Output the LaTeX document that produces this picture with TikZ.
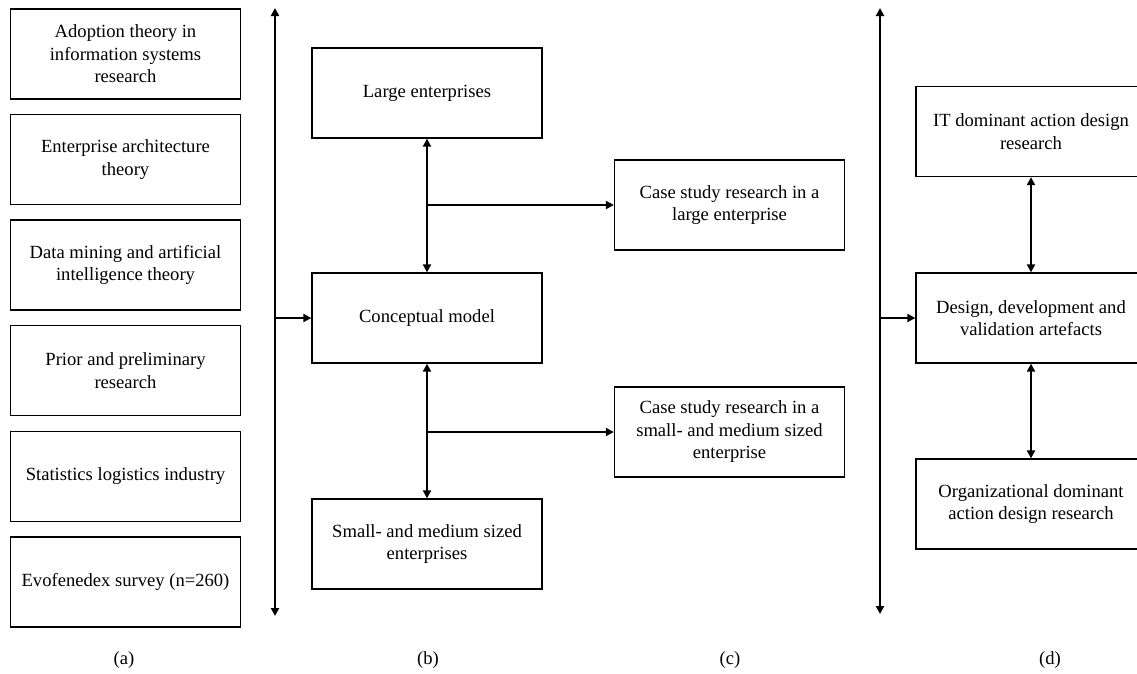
\documentclass[tikz,border=0pt]{standalone}
\usepackage{fontspec}
\setmainfont{Liberation Serif}
\usetikzlibrary{arrows.meta}
\begin{document}
\begin{tikzpicture}[x=1pt,y=-1pt,
  box/.style={draw,line width=1.3pt,minimum width=230pt,minimum height=90pt,align=center,inner sep=2pt,
    font=\fontsize{18.6}{22.5}\selectfont},
  conn/.style={line width=2.4pt,-{Triangle[length=8pt,width=8pt]}},
  dconn/.style={line width=2.4pt,{Triangle[length=8pt,width=8pt]}-{Triangle[length=8pt,width=8pt]}},
  lbl/.style={font=\fontsize{18.6}{22.5}\selectfont}]
\useasboundingbox (0,0) rectangle (1137,673);
\clip (0,0) rectangle (1137,673);
\fill[white] (0,0) rectangle (1137,673);
% (a)
\node[box] (a1) at (125.5,54) {Adoption theory in\\information systems\\research};
\node[box] (a2) at (125.5,159.5) {Enterprise architecture\\theory};
\node[box] (a3) at (125.5,265) {Data mining and artificial\\intelligence theory};
\node[box] (a4) at (125.5,370.5) {Prior and preliminary\\research};
\node[box] (a5) at (125.5,476.5) {Statistics logistics industry};
\node[box] (a6) at (125.5,582) {Evofenedex survey (n=260)};
% (b)
\node[box] (large) at (427,93) {Large enterprises};
\node[box] (concept) at (427,318) {Conceptual model};
\node[box] (small) at (427,544) {Small- and medium sized\\enterprises};
% (c)
\node[box] (c1) at (729.5,205) {Case study research in a\\large enterprise};
\node[box] (c2) at (729.5,432) {Case study research in a\\small- and medium sized\\enterprise};
% (d)
\node[box] (it) at (1031,131.5) {IT dominant action design\\research};
\node[box] (design) at (1031,318) {Design, development and\\validation artefacts};
\node[box] (org) at (1031,504) {Organizational dominant\\action design research};
% axis lines
\coordinate (l1top) at (275,8);
\coordinate (l1bot) at (275,616);
\coordinate (l1mid) at (275,318);
\coordinate (l2top) at (880,8);
\coordinate (l2bot) at (880,614);
\coordinate (l2mid) at (880,318);
\draw[dconn] (l1top) -- (l1bot);
\draw[dconn] (l2top) -- (l2bot);
\draw[conn] (l1mid) -- (concept.west);
\draw[conn] (l2mid) -- (design.west);
% b connectors
\draw[dconn] (large.south) -- (concept.north);
\draw[dconn] (concept.south) -- (small.north);
\coordinate (br1) at (427,205);
\coordinate (br2) at (427,432);
\draw[conn] (br1) -- (c1.west);
\draw[conn] (br2) -- (c2.west);
% d connectors
\draw[dconn] (it.south) -- (design.north);
\draw[dconn] (design.south) -- (org.north);
% labels
\node[lbl] (la) at (124,660) {(a)};
\node[lbl] (lb) at (428,660) {(b)};
\node[lbl] (lc) at (730,660) {(c)};
\node[lbl] (ld) at (1050,660) {(d)};
\end{tikzpicture}
\end{document}
